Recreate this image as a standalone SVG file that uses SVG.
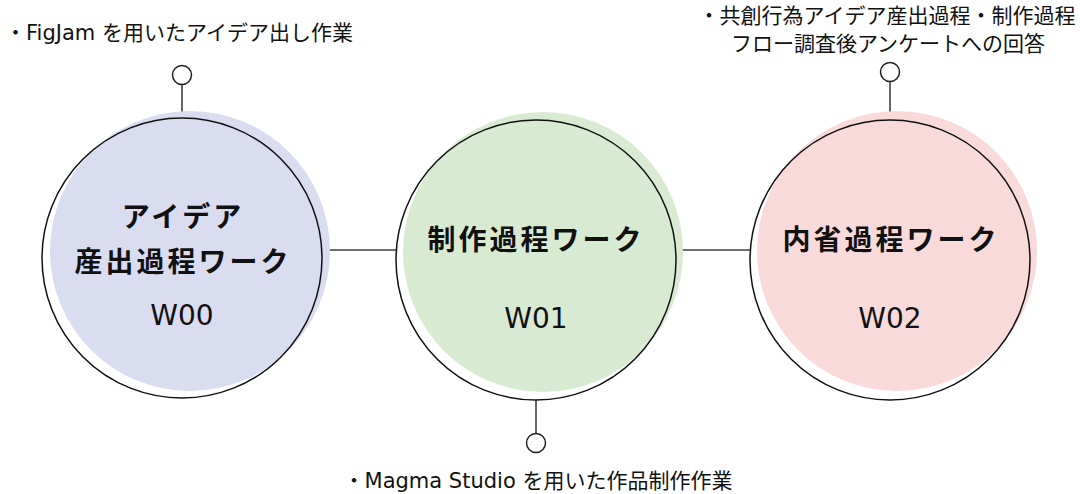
<svg xmlns="http://www.w3.org/2000/svg" width="1080" height="494" viewBox="0 0 1080 494">
  <style>
    .fill1 { fill: #dadcef; }
    .fill2 { fill: #d9ead3; }
    .fill3 { fill: #f8dadb; }
    .outline { fill: none; stroke: #111; stroke-width: 1.5; }
    .conn { stroke: #404040; stroke-width: 1.6; fill: none; }
    .dot { fill: #fff; stroke: #222; stroke-width: 1.5; }
    .title { font-family: "Noto Sans CJK JP", sans-serif; font-weight: 700; font-size: 28px; fill: #111; letter-spacing: 3px; text-anchor: middle; }
    .code { font-family: "DejaVu Sans", "Noto Sans CJK JP", sans-serif; font-size: 28px; fill: #111; text-anchor: middle; }
    .note { font-family: "DejaVu Sans", "Noto Sans CJK JP", sans-serif; font-size: 21px; fill: #111; text-anchor: middle; }
  </style>
  <rect width="1080" height="494" fill="#fff"/>
  <g id="connectors">
    <line class="conn" x1="322" y1="250" x2="396" y2="250"/>
    <line class="conn" x1="676" y1="250" x2="750" y2="250"/>
    <line class="conn" x1="182" y1="85" x2="182" y2="118"/>
    <line class="conn" x1="536" y1="400" x2="536" y2="434"/>
    <line class="conn" x1="890" y1="81" x2="890" y2="120"/>
  </g>
  <g id="node-w00">
    <circle class="fill1" cx="190" cy="251" r="140"/>
    <circle class="outline" cx="182" cy="258" r="140"/>
    <text class="title" x="183" y="227">アイデア</text>
    <text class="title" x="183" y="272">産出過程ワーク</text>
    <text class="code" x="182" y="325">W00</text>
  </g>
  <g id="node-w01">
    <circle class="fill2" cx="543" cy="252" r="140"/>
    <circle class="outline" cx="536" cy="260" r="140"/>
    <text class="title" x="536" y="250">制作過程ワーク</text>
    <text class="code" x="536" y="328">W01</text>
  </g>
  <g id="node-w02">
    <circle class="fill3" cx="897" cy="251" r="140"/>
    <circle class="outline" cx="890" cy="260" r="140"/>
    <text class="title" x="891" y="250">内省過程ワーク</text>
    <text class="code" x="890" y="328">W02</text>
  </g>
  <g id="note-w00">
    <circle class="dot" cx="182" cy="75" r="9.5"/>
    <text class="note" x="179" y="40">・FigJam を用いたアイデア出し作業</text>
  </g>
  <g id="note-w01">
    <circle class="dot" cx="536" cy="443" r="9.5"/>
    <text class="note" x="538" y="488">・Magma Studio を用いた作品制作作業</text>
  </g>
  <g id="note-w02">
    <circle class="dot" cx="890" cy="72" r="9.5"/>
    <text class="note" x="887" y="23">・共創行為アイデア産出過程・制作過程</text>
    <text class="note" x="888" y="51">フロー調査後アンケートへの回答</text>
  </g>
</svg>
